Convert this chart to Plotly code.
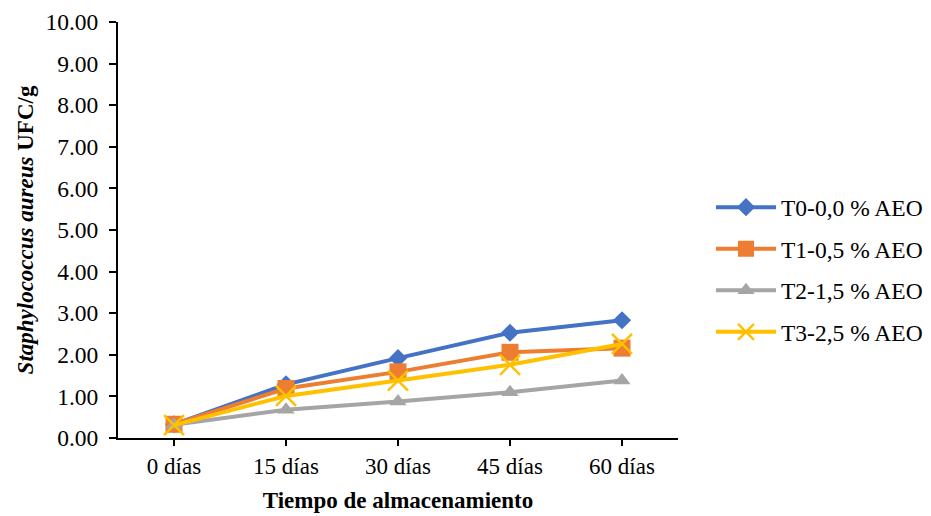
import plotly.graph_objects as go

# Storage time categories and S. aureus counts per treatment
dias = ["0 días", "15 días", "30 días", "45 días", "60 días"]
t0_vals = [0.33, 1.29, 1.92, 2.53, 2.83]
t1_vals = [0.33, 1.19, 1.59, 2.06, 2.16]
t2_vals = [0.32, 0.68, 0.88, 1.10, 1.38]
t3_vals = [0.31, 1.01, 1.38, 1.76, 2.26]

series_names = ["T0-0,0 % AEO", "T1-0,5 % AEO", "T2-1,5 % AEO", "T3-2,5 % AEO"]
series_vals = [t0_vals, t1_vals, t2_vals, t3_vals]
colors = ["#4472C4", "#ED7D31", "#A5A5A5", "#FFC000"]
symbols = ["diamond", "square", "triangle-up", "x-thin"]
sizes = [14, 17, 15, 20]

FONT = "Liberation Serif, Times New Roman, serif"

fig = go.Figure()
for i, (name, vals) in enumerate(zip(series_names, series_vals)):
    marker = dict(symbol=symbols[i], size=sizes[i], color=colors[i])
    if symbols[i] == "x-thin":
        marker["line"] = dict(color=colors[i], width=2.5)
    fig.add_trace(go.Scatter(
        x=dias, y=vals, name=name, mode="lines+markers",
        line=dict(color=colors[i], width=4),
        marker=marker,
        legendgroup=f"g{i}",
    ))

fig.update_layout(
    width=931, height=516,
    margin=dict(l=118, r=253, t=22, b=78, autoexpand=False),
    paper_bgcolor="white", plot_bgcolor="white",
    font=dict(family=FONT, size=23, color="black"),
    legend=dict(
        x=1.0 + 33 / 560, xref="paper", xanchor="left", y=0.404, yanchor="middle",
        font=dict(family=FONT, size=23.5, color="black"),
        tracegroupgap=8, itemwidth=60,
        bgcolor="rgba(0,0,0,0)",
    ),
    xaxis=dict(
        type="category", range=[-0.5, 4.5],
        showline=True, linecolor="black", linewidth=2,
        ticks="outside", ticklen=6, tickwidth=2, tickcolor="black",
        tickfont=dict(family=FONT, size=23),
        showgrid=False, zeroline=False,
        title=dict(text="<b>Tiempo de almacenamiento</b>",
                   font=dict(family=FONT, size=23), standoff=14),
    ),
    yaxis=dict(
        range=[0, 10], dtick=1, tickformat=".2f",
        showline=True, linecolor="black", linewidth=2,
        ticks="outside", ticklen=7, tickwidth=2, tickcolor="black",
        tickfont=dict(family=FONT, size=23.5), ticklabelstandoff=6,
        showgrid=False, zeroline=False,
        title=dict(text="<b><i>Staphylococcus aureus</i> UFC/g</b>",
                   font=dict(family=FONT, size=23), standoff=5),
    ),
)

fig.write_html("out.html")
